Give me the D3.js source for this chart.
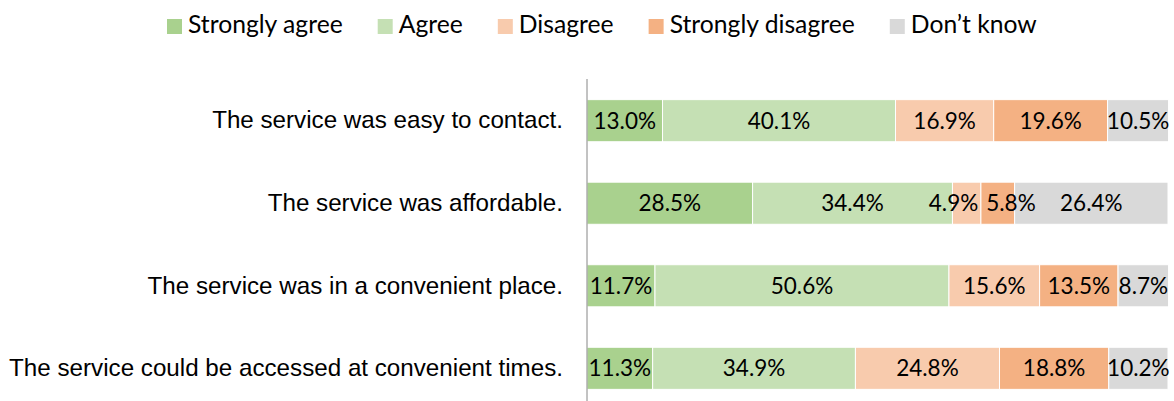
<!DOCTYPE html>
<meta charset="utf-8">
<style>
body { margin: 0; background: #fff; font-family: Lato, "Noto Sans", sans-serif; }
.cat { font-size: 24.2px; fill: #000; }
.val { font-size: 22.5px; fill: #000; }
.leg { font-size: 24.7px; fill: #000; }
</style>
<body>
<script src="https://d3js.org/d3.v7.min.js"></script>
<script>
var questions = [
  "The service was easy to contact.",
  "The service was affordable.",
  "The service was in a convenient place.",
  "The service could be accessed at convenient times."
];
var responses = ["Strongly agree", "Agree", "Disagree", "Strongly disagree", "Don\u2019t know"];
var colors = ["#a9d18e", "#c5e0b4", "#f8cbad", "#f4b183", "#d9d9d9"];

var stronglyAgree    = [13.0, 28.5, 11.7, 11.3];
var agree            = [40.1, 34.4, 50.6, 34.9];
var disagree         = [16.9, 4.9, 15.6, 24.8];
var stronglyDisagree = [19.6, 5.8, 13.5, 18.8];
var dontKnow         = [10.5, 26.4, 8.7, 10.2];

var series = [stronglyAgree, agree, disagree, stronglyDisagree, dontKnow];

var width = 1174, height = 401;
var svg = d3.select("body").append("svg")
    .attr("width", width)
    .attr("height", height);

var x = d3.scaleLinear().domain([0, 100]).range([587, 1168]);
var y = d3.scaleBand().domain(questions).range([79, 410]).paddingInner(0.49).paddingOuter(0.25);

// rows for stacking
var rows = questions.map(function(q, i) {
  var r = { q: q };
  responses.forEach(function(k, j) { r[k] = series[j][i]; });
  return r;
});
var stack = d3.stack().keys(responses)(rows);

var layer = svg.selectAll(".layer")
    .data(stack)
  .enter().append("g")
    .attr("fill", function(d, i) { return colors[i]; });

layer.selectAll("rect")
    .data(function(d) { return d; })
  .enter().append("rect")
    .attr("x", function(d) { return x(d[0]); })
    .attr("width", function(d) { return x(d[1]) - x(d[0]); })
    .attr("y", function(d) { return y(d.data.q); })
    .attr("height", y.bandwidth())
    .attr("stroke", "#fff")
    .attr("stroke-width", 1);

var labels = svg.append("g");
questions.forEach(function(q, i) {
  var items = stack.map(function(s) {
    var d = s[i];
    return { cx: (x(d[0]) + x(d[1])) / 2, text: (d[1] - d[0]).toFixed(1) + "%" };
  });
  var t = labels.selectAll(null)
      .data(items)
    .enter().append("text")
      .attr("class", "val")
      .attr("x", function(d) { return d.cx; })
      .attr("y", y(q) + y.bandwidth() / 2)
      .attr("dy", "0.35em")
      .attr("text-anchor", "middle")
      .text(function(d) { return d.text; });
  // push overlapping labels apart, like the spreadsheet does
  t.each(function(d) { d.w = this.getComputedTextLength(); });
  for (var it = 0; it < 50; it++) {
    for (var k = 0; k < items.length - 1; k++) {
      var a = items[k], b = items[k + 1];
      var gap = (b.cx - b.w / 2) - (a.cx + a.w / 2) - 8;
      if (gap < 0) { a.cx += gap / 2; b.cx -= gap / 2; }
    }
  }
  t.attr("x", function(d) { return d.cx; });
});

// category axis
var axis = svg.append("g")
    .attr("transform", "translate(587,0)")
    .call(d3.axisLeft(y).tickSize(0).tickPadding(24));
axis.select(".domain").attr("stroke", "#868686").attr("d", "M0,79V401");
axis.selectAll("text").attr("class", "cat").attr("font-family", null).attr("font-size", null).attr("fill", "#000");

// legend, laid out left to right
var leg = svg.selectAll(".legend")
    .data(responses)
  .enter().append("g");
leg.append("rect")
    .attr("y", 19)
    .attr("width", 15).attr("height", 15)
    .attr("fill", function(d, i) { return colors[i]; });
leg.append("text")
    .attr("class", "leg")
    .attr("x", 21)
    .attr("y", 33)
    .text(function(d) { return d; });
var lx = 167;
leg.each(function() {
  d3.select(this).attr("transform", "translate(" + lx + ",0)");
  lx += 21 + d3.select(this).select("text").node().getComputedTextLength() + 35;
});
</script>
